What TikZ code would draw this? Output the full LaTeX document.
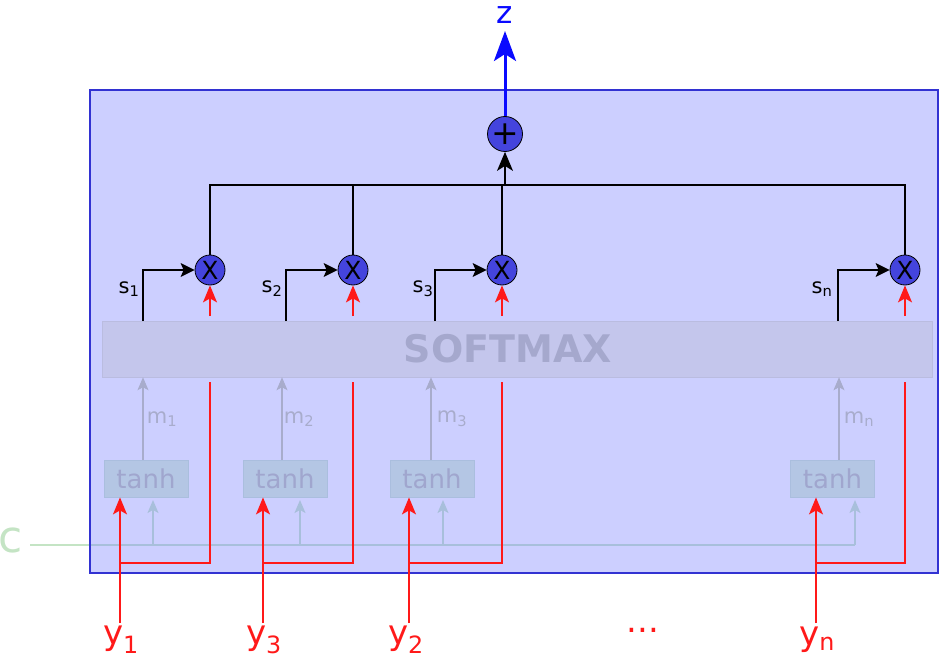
\documentclass[tikz,border=0pt]{standalone}
\usepackage{fontspec}
\setmainfont{DejaVu Sans}
\usetikzlibrary{arrows.meta}
\definecolor{boxfill}{RGB}{128,136,255}
\definecolor{boxline}{RGB}{50,50,210}
\definecolor{opfill}{RGB}{68,68,221}
\definecolor{smfill}{RGB}{196,198,236}
\definecolor{smtext}{RGB}{165,168,205}
\definecolor{tanhfill}{RGB}{180,198,228}
\definecolor{tanhline}{RGB}{170,190,222}
\definecolor{tanhtext}{RGB}{160,166,206}
\definecolor{mgray}{RGB}{168,172,204}
\definecolor{cgreen}{RGB}{196,228,196}
\definecolor{redc}{RGB}{255,25,25}
\definecolor{bluec}{RGB}{10,10,255}
\tikzset{
  outerbox/.style={draw=boxline, fill=boxfill, fill opacity=0.4, line width=1.2pt},
  opnode/.style={circle, draw=black, fill=opfill, line width=0.8pt, minimum size=30pt, inner sep=0pt, font=\fontsize{25}{25}\selectfont},
  plusnode/.style={circle, draw=black, fill=opfill, line width=0.8pt, minimum size=35pt, inner sep=0pt, font=\fontsize{33}{33}\selectfont},
  smbox/.style={fill=smfill, draw=smfill!95!black, line width=0.5pt, minimum width=830pt, minimum height=56pt, inner sep=0pt},
  smlabel/.style={inner sep=0pt, text=smtext, font=\fontsize{38}{38}\selectfont\bfseries},
  tanhbox/.style={fill=tanhfill, draw=tanhline, line width=0.8pt, minimum width=84pt, minimum height=37pt, inner sep=0pt, text=tanhtext, font=\fontsize{26}{26}\selectfont},
  blk/.style={draw=black, line width=1.2pt},
  blkarrow/.style={blk, -{Stealth[length=14pt,width=14pt,inset=3pt]}},
  redline/.style={draw=redc, line width=1.4pt},
  redarrow/.style={redline, -{Stealth[length=17pt,width=14pt,inset=4pt]}},
  marrow/.style={draw=mgray, line width=1.2pt, -{Stealth[length=13pt,width=11pt,inset=3pt]}},
  cline/.style={draw=cgreen, line width=1.6pt},
  carrow/.style={cline, -{Stealth[length=13pt,width=11pt,inset=3pt]}},
  slabel/.style={font=\fontsize{21}{21}\selectfont, text=black, inner sep=0pt},
  mlabel/.style={font=\fontsize{21}{21}\selectfont, text=mgray, inner sep=0pt},
  ylabel/.style={font=\fontsize{34}{34}\selectfont, text=redc, inner sep=0pt},
}
\begin{document}
\begin{tikzpicture}[x=1pt,y=-1pt]
\useasboundingbox (0,0) rectangle (940,658);
% c line (under the translucent box)
\node[font=\fontsize{44}{44}\selectfont, text=cgreen, inner sep=0pt] (c) at (11,540) {c};
\coordinate (cstart) at (30,545);
\coordinate (cend) at (855,545);
\coordinate (c1) at (153,545); \coordinate (c2) at (300,545); \coordinate (c3) at (443,545);
\coordinate (ct1) at (153,500); \coordinate (ct2) at (300,500);
\coordinate (ct3) at (443,500); \coordinate (ct4) at (855,500);
\draw[cline] (cstart) -- (cend);
\draw[carrow] (cend) -- (ct4);
\draw[carrow] (c1) -- (ct1);
\draw[carrow] (c2) -- (ct2);
\draw[carrow] (c3) -- (ct3);
% outer box
\draw[outerbox] (90,90) rectangle (938,573);
% softmax
\node[smbox] (sm) at (517,349) {};
\node[smlabel] (smt) at (508,349) {SOFTMAX};
% tanh boxes
\node[tanhbox] (t1) at (146,478.5) {tanh};
\node[tanhbox] (t2) at (285,478.5) {tanh};
\node[tanhbox] (t3) at (432,478.5) {tanh};
\node[tanhbox] (t4) at (832.5,478.5) {tanh};
% multiply nodes
\node[opnode] (x1) at (210,270) {X};
\node[opnode] (x2) at (353,270) {X};
\node[opnode] (x3) at (502,270) {X};
\node[opnode] (x4) at (905,270) {X};
% plus
\node[plusnode] (plus) at (505,134) {+};
\node[font=\fontsize{31}{31}\selectfont, text=bluec, inner sep=0pt] (z) at (505,15) {z};
\coordinate (ztip) at (505,31);
\draw[draw=bluec, line width=3pt, -{Stealth[length=30pt,width=22pt,inset=7pt]}] (plus.north) -- (ztip);
% sum bus
\coordinate (bus1) at (210,185);
\coordinate (bus4) at (905,185);
\coordinate (bus2) at (353,185);
\coordinate (bus3) at (502,185);
\coordinate (busp) at (505,185);
\draw[blk] (x1.north) -- (bus1) -- (bus4) -- (x4.north);
\draw[blk] (x2.north) -- (bus2);
\draw[blk] (x3.north) -- (bus3);
\draw[blk, -{Stealth[length=19pt,width=16pt,inset=5pt]}] (busp) -- (plus.south);
% s arrows
\coordinate (s1a) at (143,321); \coordinate (s1b) at (143,270);
\coordinate (s2a) at (286,321); \coordinate (s2b) at (286,270);
\coordinate (s3a) at (435,321); \coordinate (s3b) at (435,270);
\coordinate (s4a) at (838,321); \coordinate (s4b) at (838,270);
\draw[blkarrow] (s1a) -- (s1b) -- (x1.west);
\draw[blkarrow] (s2a) -- (s2b) -- (x2.west);
\draw[blkarrow] (s3a) -- (s3b) -- (x3.west);
\draw[blkarrow] (s4a) -- (s4b) -- (x4.west);
\node[slabel] (sl1) at (129,289) {s\textsubscript{1}};
\node[slabel] (sl2) at (272,289) {s\textsubscript{2}};
\node[slabel] (sl3) at (423,289) {s\textsubscript{3}};
\node[slabel] (sl4) at (822,289) {s\textsubscript{n}};
% red short arrows into multipliers
\coordinate (r1) at (210,316); \coordinate (r2) at (353,316);
\coordinate (r3) at (502,316); \coordinate (r4) at (905,316);
\draw[redarrow] (r1) -- (x1.south);
\draw[redarrow] (r2) -- (x2.south);
\draw[redarrow] (r3) -- (x3.south);
\draw[redarrow] (r4) -- (x4.south);
% m arrows
\coordinate (m1) at (143,0); \coordinate (m2) at (282,0);
\coordinate (m3) at (431,0); \coordinate (m4) at (839,0);
\draw[marrow] (t1.north -| m1) -- (sm.south -| m1);
\draw[marrow] (t2.north -| m2) -- (sm.south -| m2);
\draw[marrow] (t3.north -| m3) -- (sm.south -| m3);
\draw[marrow] (t4.north -| m4) -- (sm.south -| m4);
\node[mlabel] (ml1) at (162,419) {m\textsubscript{1}};
\node[mlabel] (ml2) at (299,419) {m\textsubscript{2}};
\node[mlabel] (ml3) at (452,419) {m\textsubscript{3}};
\node[mlabel] (ml4) at (859,419) {m\textsubscript{n}};
% y labels
\node[ylabel] (y1) at (121,640) {y\textsubscript{1}};
\node[ylabel] (y3) at (264,640) {y\textsubscript{3}};
\node[ylabel] (y2) at (406,640) {y\textsubscript{2}};
\node[ylabel] (yn) at (817,640) {y\textsubscript{n}};
\node[ylabel] (dots) at (643,630) {...};
% red inputs
\coordinate (ys1) at (120,623); \coordinate (ys2) at (263,623);
\coordinate (ys3) at (409,623); \coordinate (ys4) at (816,623);
\draw[redarrow] (ys1) -- (ys1 |- t1.south);
\draw[redarrow] (ys2) -- (ys2 |- t2.south);
\draw[redarrow] (ys3) -- (ys3 |- t3.south);
\draw[redarrow] (ys4) -- (ys4 |- t4.south);
\coordinate (rc1) at (120,563); \coordinate (rt1) at (210,382);
\coordinate (rc2) at (263,563); \coordinate (rt2) at (353,382);
\coordinate (rc3) at (409,563); \coordinate (rt3) at (502,382);
\coordinate (rc4) at (816,563); \coordinate (rt4) at (905,382);
\draw[redline] (rc1) -| (rt1);
\draw[redline] (rc2) -| (rt2);
\draw[redline] (rc3) -| (rt3);
\draw[redline] (rc4) -| (rt4);
\end{tikzpicture}
\end{document}
